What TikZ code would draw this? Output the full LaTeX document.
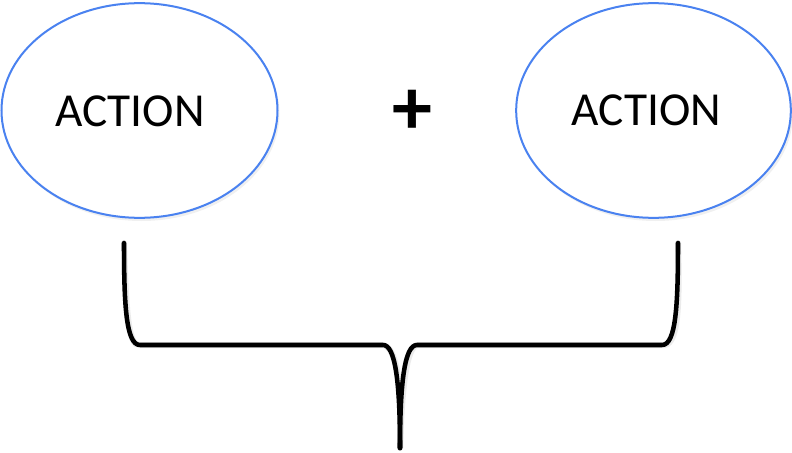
\documentclass[tikz,border=0pt]{standalone}
\usepackage{fontspec}
\setmainfont{Carlito}
\usetikzlibrary{shapes.geometric}
\begin{document}
\begin{tikzpicture}[x=0.75pt,y=-0.75pt,
  bubble/.style={ellipse, draw=ringblue, line width=1.5pt, fill=white,
    minimum width=#1, minimum height=161pt, inner sep=0pt},
  actiontext/.style={font=\fontsize{35.5}{40}\selectfont, text=black, inner sep=0pt},
  brace/.style={line width=3.4pt, line cap=round, line join=round, draw=black},
  braceshade/.style={line width=4.5pt, draw=black, opacity=0.08, line cap=round}]
\definecolor{ringblue}{RGB}{74,130,240}
\useasboundingbox (0,0) rectangle (792,453);
% soft shadows under the ovals
\fill[black, opacity=0.06] (141.5,113.5) ellipse [x radius=138, y radius=107.5];
\fill[black, opacity=0.06] (655.5,113.5) ellipse [x radius=137.5, y radius=107.5];
% the two ovals
\node[bubble=207pt] (left) at (139.5,110.5) {};
\node[bubble=206pt] (right) at (653.5,110.5) {};
\node[actiontext] (lefttext) at (130,111.5) {ACTION};
\node[actiontext] (righttext) at (646.5,110) {ACTION};
\node[font=\bfseries\fontsize{60}{70}\selectfont, inner sep=0pt] (plus) at (412,112) {+};
% curly brace joining both ovals
\coordinate (lt) at (124,243);
\coordinate (lc) at (140,345);
\coordinate (lm) at (383,345);
\coordinate (tip) at (400,448);
\coordinate (rm) at (417,345);
\coordinate (rc) at (662,345);
\coordinate (rt) at (678,243);
\begin{scope}[shift={(2,3)}]
\draw[braceshade] (lt) .. controls (124,305) and (126,345) .. (lc) -- (lm)
  .. controls (395,345) and (400,380) .. (tip);
\draw[braceshade] (rt) .. controls (678,305) and (676,345) .. (rc) -- (rm)
  .. controls (405,345) and (400,380) .. (tip);
\end{scope}
\draw[brace] (lt) .. controls (124,305) and (126,345) .. (lc) -- (lm)
  .. controls (395,345) and (400,380) .. (tip);
\draw[brace] (rt) .. controls (678,305) and (676,345) .. (rc) -- (rm)
  .. controls (405,345) and (400,380) .. (tip);
\end{tikzpicture}
\end{document}
